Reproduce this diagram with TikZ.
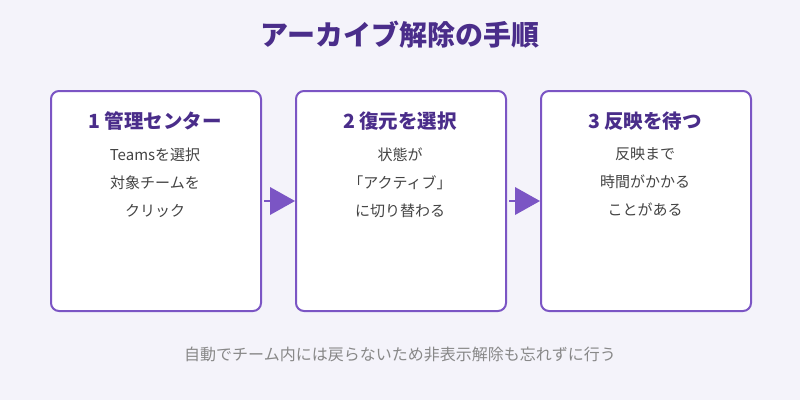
\documentclass[tikz,border=0pt]{standalone}
\usepackage{fontspec}
\setmainfont{Noto Sans CJK JP}
\usetikzlibrary{positioning}
\definecolor{bgc}{HTML}{F4F3FA}
\definecolor{edgec}{HTML}{7B55C4}
\definecolor{titlec}{HTML}{4A2D8A}
\definecolor{bodyc}{HTML}{444444}
\definecolor{notec}{HTML}{888888}
\tikzset{
  stepbox/.style={draw=edgec, line width=2pt, fill=white, rounded corners=8pt,
    minimum width=210pt, minimum height=220pt, anchor=north west},
  head/.style={text=titlec, font=\fontsize{19.5}{22}\selectfont\bfseries},
  body/.style={text=bodyc, font=\fontsize{15}{28}\selectfont, align=center},
  link/.style={draw=edgec, line width=2pt}
}
\begin{document}
\begin{tikzpicture}[x=1pt,y=-1pt]
  \useasboundingbox[fill=bgc] (0,0) rectangle (800,400);

  % title
  \node[text=titlec, font=\fontsize{28}{32}\selectfont\bfseries] (title) at (400,35) {アーカイブ解除の手順};

  % steps
  \node[stepbox] (s1) at (50,90) {};
  \node[stepbox] (s2) at (295,90) {};
  \node[stepbox] (s3) at (540,90) {};

  \node[head] (h1) at (155,121) {1 管理センター};
  \node[head] (h2) at (400,121) {2 復元を選択};
  \node[head] (h3) at (645,121) {3 反映を待つ};

  \node[body, below=10pt of h1] (b1) {Teamsを選択\\対象チームを\\クリック};
  \node[body, below=10pt of h2] (b2) {状態が\\「アクティブ」\\に切り替わる};
  \node[body, below=10pt of h3] (b3) {反映まで\\時間がかかる\\ことがある};

  % arrows
  \foreach \a/\b in {s1/s2, s2/s3} {
    \coordinate (t) at ([xshift=8pt]\a.east);
    \draw[link] ([xshift=2pt]\a.east) -- (t);
    \fill[edgec] ([yshift=-14pt]t) -- (\b.west) -- ([yshift=14pt]t) -- cycle;
  }

  % note
  \node[text=notec, font=\fontsize{16}{18}\selectfont] (note) at (400,354) {自動でチーム内には戻らないため非表示解除も忘れずに行う};
\end{tikzpicture}
\end{document}
